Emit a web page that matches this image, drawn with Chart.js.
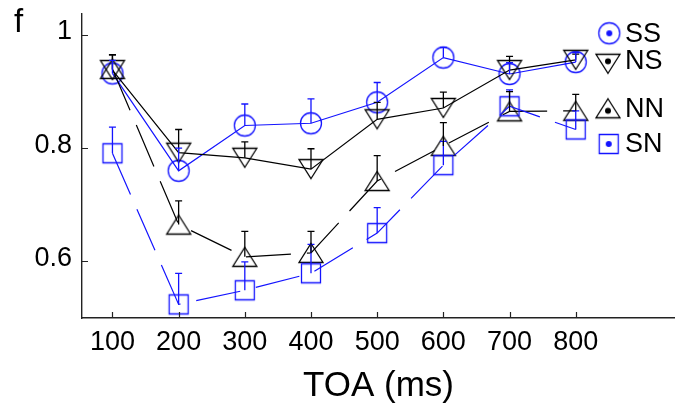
<!DOCTYPE html>
<html>
<head>
<meta charset="utf-8">
<script src="https://cdn.jsdelivr.net/npm/chart.js@4/dist/chart.umd.min.js"></script>
<style>
  html, body { margin: 0; padding: 0; background: #fff; }
  #wrap { width: 675px; height: 408px; }
</style>
</head>
<body>
<div id="wrap"><canvas id="c" width="675" height="408"></canvas></div>
<script>
// Proportion per target-onset asynchrony, four conditions (mean and upper SE)
const toa = [100, 200, 300, 400, 500, 600, 700, 800];

const ssMean = [0.932, 0.760, 0.840, 0.844, 0.881, 0.960, 0.931, 0.952];
const ssErr  = [0.023, 0.040, 0.038, 0.043, 0.035, 0.018, 0.020, 0.017];

const nsMean = [0.938, 0.792, 0.783, 0.763, 0.851, 0.871, 0.938, 0.956];
const nsErr  = [0.027, 0.041, 0.028, 0.036, 0.030, 0.028, 0.024, 0.010];

const nnMean = [0.940, 0.665, 0.608, 0.615, 0.742, 0.804, 0.865, 0.866];
const nnErr  = [0.025, 0.042, 0.045, 0.038, 0.045, 0.041, 0.035, 0.029];

const snMean = [0.791, 0.524, 0.549, 0.579, 0.650, 0.770, 0.874, 0.833];
const snErr  = [0.046, 0.055, 0.050, 0.051, 0.045, 0.042, 0.029, 0.033];

const seriesNames = ['SS', 'NS', 'NN', 'SN'];
const xTickValues = [100, 200, 300, 400, 500, 600, 700, 800];
const yTickValues = [0.6, 0.8, 1];

const BLUE = '#1414ff';
const BLACK = '#000000';
const FONT = "'Liberation Sans', Arial, Helvetica, sans-serif";

// Hollow marker sprites (optionally with a centre dot for the key)
function marker(kind, color, dot) {
  const c = document.createElement('canvas');
  c.width = 30; c.height = 30;
  const g = c.getContext('2d');
  g.strokeStyle = color; g.fillStyle = color; g.lineWidth = 1.3;
  const cx = 15, cy = 15;
  let dy = 0;
  g.beginPath();
  if (kind === 'circle') {
    g.arc(cx, cy, 10.5, 0, Math.PI * 2);
  } else if (kind === 'up') {
    g.moveTo(cx, cy - 9.5); g.lineTo(cx + 12, cy + 9.5); g.lineTo(cx - 12, cy + 9.5); g.closePath();
    dy = 2.5;
  } else if (kind === 'down') {
    g.moveTo(cx, cy + 9.5); g.lineTo(cx + 12, cy - 9.5); g.lineTo(cx - 12, cy - 9.5); g.closePath();
    dy = -2.5;
  } else {
    g.rect(cx - 9.5, cy - 9.5, 19, 19);
  }
  g.stroke();
  if (dot) {
    g.beginPath(); g.arc(cx, cy + dy, 3, 0, Math.PI * 2); g.fill();
  }
  return c;
}

const kinds = { SS: ['circle', BLUE], NS: ['down', BLACK], NN: ['up', BLACK], SN: ['square', BLUE] };

function pts(means) { return toa.map((x, i) => ({ x: x, y: means[i] })); }

const datasets = [
  { label: 'SN', data: pts(snMean), err: snErr, borderColor: BLUE, borderDash: [45, 16] },
  { label: 'NN', data: pts(nnMean), err: nnErr, borderColor: BLACK, borderDash: [45, 16] },
  { label: 'NS', data: pts(nsMean), err: nsErr, borderColor: BLACK, borderDash: [] },
  { label: 'SS', data: pts(ssMean), err: ssErr, borderColor: BLUE, borderDash: [] }
].map(d => Object.assign(d, {
  borderWidth: 1.2,
  fill: false,
  tension: 0,
  pointStyle: marker(kinds[d.label][0], kinds[d.label][1], false),
  pointRadius: 12,
  pointHoverRadius: 12,
  clip: false
}));

// Upper standard-error whiskers with caps
const errorBars = {
  id: 'errorBars',
  afterDatasetsDraw(chart) {
    const { ctx, scales: { x, y } } = chart;
    ctx.save();
    ctx.lineWidth = 1.3;
    chart.data.datasets.forEach(ds => {
      ctx.strokeStyle = ds.borderColor;
      ds.data.forEach((p, i) => {
        const px = x.getPixelForValue(p.x);
        const py = y.getPixelForValue(p.y);
        const pt = y.getPixelForValue(p.y + ds.err[i]);
        ctx.beginPath();
        ctx.moveTo(px, py); ctx.lineTo(px, pt);
        ctx.moveTo(px - 3.5, pt); ctx.lineTo(px + 3.5, pt);
        ctx.stroke();
      });
    });
    ctx.restore();
  }
};

// Inward tick marks, panel letter and the condition key
const decorations = {
  id: 'decorations',
  afterDraw(chart) {
    const { ctx, chartArea: a, scales: { x, y } } = chart;
    ctx.save();
    ctx.strokeStyle = '#222';
    ctx.lineWidth = 1.2;
    ctx.beginPath();
    xTickValues.forEach(v => {
      const px = Math.round(x.getPixelForValue(v)) + 0.5;
      ctx.moveTo(px, a.bottom); ctx.lineTo(px, a.bottom - 6);
    });
    yTickValues.forEach(v => {
      const py = Math.round(y.getPixelForValue(v)) + 0.5;
      ctx.moveTo(a.left, py); ctx.lineTo(a.left + 6, py);
    });
    ctx.stroke();

    ctx.fillStyle = '#000';
    ctx.textBaseline = 'alphabetic';
    ctx.textAlign = 'left';
    ctx.font = '33px ' + FONT;
    ctx.fillText('f', 14, 31.5);

    const key = [
      { name: 'SS', mx: 609.3, my: 33.3, base: 41.7 },
      { name: 'NS', mx: 608, my: 63.8, base: 69.3 },
      { name: 'NN', mx: 608, my: 108.3, base: 117.3 },
      { name: 'SN', mx: 608.7, my: 144, base: 151.7 }
    ];
    ctx.font = '27px ' + FONT;
    key.forEach(k => {
      const m = marker(kinds[k.name][0], kinds[k.name][1], true);
      ctx.drawImage(m, k.mx - 15, k.my - 15);
      ctx.fillText(k.name, 625, k.base);
    });
    ctx.restore();
  }
};

// Axis boxes get fixed sizes and no extra label padding at their ends
function noEndPadding(s) {
  s.paddingTop = 0; s.paddingBottom = 0; s.paddingLeft = 0; s.paddingRight = 0;
}

new Chart(document.getElementById('c'), {
  type: 'line',
  data: { datasets },
  options: {
    responsive: false,
    animation: false,
    devicePixelRatio: 1,
    layout: { autoPadding: false, padding: { top: 14, right: 0, bottom: 0, left: 0 } },
    plugins: { legend: { display: false }, tooltip: { enabled: false } },
    elements: { line: { borderCapStyle: 'butt' } },
    scales: {
      x: {
        type: 'linear',
        min: 54,
        max: 950,
        afterBuildTicks: s => { s.ticks = xTickValues.map(v => ({ value: v })); },
        afterFit: s => { s.height = 90; noEndPadding(s); },
        grid: { display: false, drawTicks: false },
        border: { display: true, color: '#222', width: 1.4 },
        ticks: {
          color: '#000', font: { family: FONT, size: 27 }, padding: 8,
          maxRotation: 0, autoSkip: false, callback: v => String(v)
        },
        title: {
          display: true, text: 'TOA (ms)', color: '#000',
          font: { family: FONT, size: 35 }, padding: { top: 0, bottom: 1 }
        }
      },
      y: {
        type: 'linear',
        min: 0.5,
        max: 1.037,
        afterBuildTicks: s => { s.ticks = yTickValues.map(v => ({ value: v })); },
        afterFit: s => { s.width = 82; noEndPadding(s); },
        grid: { display: false, drawTicks: false },
        border: { display: true, color: '#222', width: 1.4 },
        ticks: {
          color: '#000', font: { family: FONT, size: 27 }, padding: 10, labelOffset: -3,
          callback: v => (v === 1 ? '1' : v.toFixed(1))
        }
      }
    }
  },
  plugins: [errorBars, decorations]
});
</script>
</body>
</html>
